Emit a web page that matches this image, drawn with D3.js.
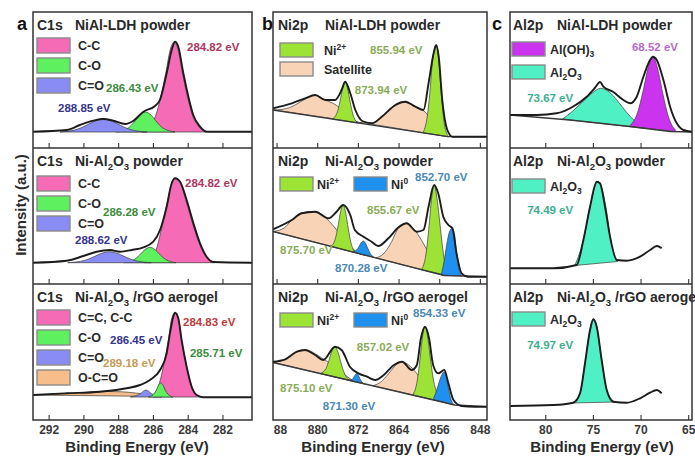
<!DOCTYPE html>
<html>
<head>
<meta charset="utf-8">
<script src="https://cdn.jsdelivr.net/npm/d3@7"></script>
<style>
  body { margin: 0; background: #fff; }
  text { font-family: "Liberation Sans", Arial, sans-serif; font-weight: bold; }
</style>
</head>
<body>
<svg width="695" height="458"></svg>
<script>
// ---- data: [binding energy (eV), intensity (a.u.)] ----
const elements = ["C1s", "Ni2p", "Al2p"]
const samples = ["NiAl-LDH powder", "Ni-Al_{2}O_{3} powder", "Ni-Al_{2}O_{3} /rGO aerogel"]
const panelLetters = ["a", "b", "c"]

const aTicks = [292, 290, 288, 286, 284, 282]
const aMinor = [292, 291, 290, 289, 288, 287, 286, 285, 284, 283, 282, 281]
const bTicks = [888, 880, 872, 864, 856, 848]
const bMinor = [888, 884, 880, 876, 872, 868, 864, 860, 856, 852, 848]
const cTicks = [80, 75, 70, 65]
const cMinor = [82.5, 80, 77.5, 75, 72.5, 70, 67.5, 65]

const aLegendA = ["C-C", "C-O", "C=O"]
const aLegendB = ["C=C, C-C", "C-O", "C=O", "O-C=O"]
const bLegendA = ["Ni^{2+}", "Satellite"]
const bLegendB = ["Ni^{2+}", "Ni^{0}"]
const cLegendA = ["Al(OH)_{3}", "Al_{2}O_{3}"]
const cLegendB = ["Al_{2}O_{3}"]

const a1Peaks = ["284.82 eV", "286.43 eV", "288.85 eV"]
const a2Peaks = ["284.82 eV", "286.28 eV", "288.62 eV"]
const a3Peaks = ["284.83 eV", "285.71 eV", "286.45 eV", "289.18 eV"]
const b1Peaks = ["855.94 eV", "873.94 eV"]
const b2Peaks = ["852.70 eV", "855.67 eV", "875.70 eV", "870.28 eV"]
const b3Peaks = ["854.33 eV", "857.02 eV", "875.10 eV", "871.30 eV"]
const c1Peaks = ["68.52 eV", "73.67 eV"]
const c2Peaks = ["74.49 eV"]
const c3Peaks = ["74.97 eV"]

// C1s, NiAl-LDH
const a1Env = [[292.9,16.3],[290.96,18],[290.2,23],[289.43,27.3],[288.85,29],[288.28,27.3],[287.6,24],[287.12,27.3],[286.55,36.3],[285.88,42],[285.6,48],[285.21,74.7],[284.92,98],[284.73,106.3],[284.54,101.3],[284.25,74.7],[283.96,51.3],[283.68,33],[283.29,21.3],[282.91,16.3],[280.3,16.3]]
const a1CC = [[286.63,16],[286.23,21],[285.83,33],[285.55,51],[285.26,75],[284.98,100],[284.78,106],[284.58,100],[284.3,75],[284.01,51],[283.73,33],[283.33,21],[282.93,16]]
const a1CO = [[288.13,16],[287.41,20.2],[287.08,26],[286.76,32.8],[286.43,36],[286.1,32.8],[285.78,26],[285.45,20.2],[284.73,16]]
const a1CdO = [[291.35,16],[290.35,18.7],[289.85,22.5],[289.35,26.9],[288.85,29],[288.35,26.9],[287.85,22.5],[287.35,18.7],[286.35,16]]

// C1s, Ni-Al2O3 powder
const a2Env = [[292.9,21.3],[290.96,23.3],[290.0,28],[289.24,32.3],[288.47,34],[287.9,32.3],[287.22,34],[286.55,36.7],[285.98,42.3],[285.59,54],[285.21,77.3],[284.92,100.7],[284.73,105.7],[284.44,102.3],[284.06,84],[283.67,60.7],[283.29,40.7],[282.91,27.3],[282.52,22],[280.3,21.3]]
const a2CC = [[286.5,21.3],[286.1,25],[285.8,35],[285.55,52],[285.22,78],[284.92,101],[284.7,105.7],[284.44,102],[284.08,82],[283.69,59],[283.29,39],[282.9,27],[282.45,21.3]]
const a2CO = [[287.67,21.3],[287.07,24.5],[286.77,29],[286.47,34.2],[286.17,36.7],[285.87,34.2],[285.57,29],[285.27,24.5],[284.67,21.3]]
const a2CdO = [[290.9,21.3],[289.93,23.6],[289.45,26.8],[288.98,30.5],[288.5,32.3],[288.03,30.5],[287.55,26.8],[287.07,23.6],[286.1,21.3]]

// C1s, Ni-Al2O3/rGO aerogel
const a3Env = [[292.9,25],[290.96,26.7],[289.05,28.3],[287.51,31.7],[286.74,35],[286.17,40],[285.59,50],[285.21,66.7],[285.02,86.7],[284.83,103.3],[284.73,107.3],[284.54,101.7],[284.35,80],[284.06,53.3],[283.77,33.3],[283.48,25],[283.1,22.7],[280.3,22.7]]
const a3CC = [[286.0,23],[285.7,33],[285.4,53],[285.11,80],[284.92,101.7],[284.73,107],[284.54,101.7],[284.35,80],[284.06,53],[283.77,33],[283.48,25],[283.2,23]]
const a3CO = [[286.25,23],[285.95,26],[285.8,30],[285.68,34.8],[285.55,37],[285.42,34.8],[285.3,30],[285.15,26],[284.85,23]]
const a3CdO = [[287.3,23],[286.95,24.5],[286.7,26.5],[286.55,28.8],[286.4,30],[286.25,28.8],[286.1,26.5],[285.85,24.5],[285.5,23]]
const a3OCdO = [[292.9,25],[291.5,26],[290.5,27],[289.5,28],[288.6,28.5],[287.8,28.2],[287.0,27],[286.3,25.5],[285.5,23.5]]

// Ni2p, NiAl-LDH
const b1Bg = [[888.7,38],[854.3,11.3],[846.6,11.3]]
const b1Env = [[888.7,39.7],[885.0,44.7],[882.4,49.7],[880.4,53],[878.4,48],[876.5,48],[875.2,58],[874.5,66.3],[873.5,54.7],[872.5,38],[870.9,26.3],[869.2,24.7],[867.3,31.3],[864.6,43],[862.7,46.3],[860.7,41.3],[859.1,38],[858.1,64.7],[857.1,94.7],[856.6,103],[856.1,91.3],[855.4,48],[854.4,18],[853.4,11.3],[846.6,11.3]]
const b1Ni2a = [[859.2,15.2],[858.4,30],[857.9,52],[857.3,88],[856.6,103],[856.1,89],[855.6,55],[855.1,28],[854.2,11.3]]
const b1Ni2b = [[877.0,29],[876.0,36.5],[875.5,47],[875.0,60],[874.5,66.3],[874.0,59],[873.5,45.5],[873.0,34],[872.0,25]]
const b1Sat1 = [[869.5,24],[867.5,30],[865.5,40],[863.5,46],[862.0,45],[860.5,41],[859.0,37],[857.5,28],[856.0,16],[854.5,11.5]]
const b1Sat2 = [[888.5,38],[886,39.5],[884,44],[882,50],[880.4,53],[878.5,48],[877,45],[875.5,40],[874,33],[872.5,27],[871,25]]

// Ni2p, Ni-Al2O3 powder
const b2Bg = [[888.7,52.5],[855,8.5],[846.6,7.3]]
const b2Env = [[888.7,54.7],[885.0,64],[883.1,70.7],[880.4,72.3],[877.8,65.7],[876.2,72.3],[874.9,79],[873.5,69],[872.6,54],[870.9,47.3],[869.3,42.3],[868.0,38],[866.0,45.7],[864.0,56.7],[862.4,60.7],[860.4,52.3],[859.1,54],[858.1,77.3],[857.0,99],[856.2,90.7],[855.2,67.3],[854.2,59],[853.4,55.7],[852.6,30.7],[851.6,10.7],[850.3,7.3],[846.6,7.3]]
const b2Ni2a = [[859.5,14.4],[858.6,30],[858.05,55],[857.5,86],[857.0,99],[856.5,88],[855.9,62],[855.3,35],[854.4,8.4]]
const b2Ni2b = [[877.3,37.6],[876.4,45.8],[875.9,58],[875.4,72.4],[874.9,79],[874.4,71.1],[873.9,55.5],[873.4,42],[872.5,31.3]]
const b2Ni0a = [[855.6,9],[855.0,24],[854.5,40],[854.0,52],[853.5,55.5],[853.0,50],[852.6,32],[852.2,16],[851.5,8]]
const b2Ni0b = [[873.1,32.1],[872.25,33.9],[871.8,37.3],[871.35,41.3],[870.9,43],[870.45,40.2],[870,35],[869.55,30.4],[868.7,26.4]]
const b2Sat1 = [[868.5,26.1],[867,30],[865.5,41],[864,56],[862.4,60.5],[861,55],[859.5,44],[858,30],[856.5,16],[855,8.5]]
const b2Sat2 = [[888.7,52.5],[886.5,56],[885,64],[883.1,70.5],[881.5,72.5],[880,72],[878.3,66],[876.8,58],[875.2,48],[873.5,38],[872,31],[870.5,28.8]]

// Ni2p, Ni-Al2O3/rGO aerogel
const b3Bg = [[888.7,57.5],[852.9,15],[846.6,13.3]]
const b3Env = [[888.7,58.3],[886.3,60.7],[884.0,68.3],[882.4,70],[880.4,65],[878.8,60],[876.5,73.3],[875.2,70],[873.5,52.7],[871.9,46.7],[870.2,43.3],[868.6,40],[866.9,45],[864.9,55],[863.3,58.3],[861.4,50],[860.4,55],[859.6,81.7],[858.8,93.3],[858.0,81.7],[857.2,55],[856.2,46.7],[855.0,50],[854.2,36.7],[853.2,20],[851.6,14],[849.0,13.3],[846.6,13.3]]
const b3Ni2a = [[861.2,25],[860.3,40],[859.8,60],[859.3,83],[858.8,93.3],[858.3,84],[857.8,64],[857.2,42],[856.2,24],[855.4,18.2]]
const b3Ni2b = [[879.4,46.5],[878.3,51.3],[877.7,59.5],[877.1,69],[876.5,73.3],[875.9,67.6],[875.3,56.7],[874.7,47.3],[873.6,39.7]]
const b3Ni0a = [[857.2,20.4],[856.5,30],[856.0,38],[855.5,45],[855,48],[854.6,43],[854.2,32],[853.8,22.6],[853.1,15]]
const b3Ni0b = [[873.9,39.8],[873.1,40.7],[872.8,42.8],[872.5,45.3],[872.2,46.5],[871.9,44.5],[871.6,41.3],[871.3,38.5],[870.5,35.8]]
const b3Sat1 = [[869,34.2],[867.5,38],[866,46],[864.5,55],[863.3,58.3],[862,55],[860.5,47],[859,36],[857.5,26],[856,18.9]]
const b3Sat2 = [[888.7,57.5],[886.3,60.7],[884.5,67],[883,70],[881.5,69],[880,65],[878.5,60],[877,55],[875.5,49],[874,43],[872.5,38.2]]

// Al2p
const c1Bg = [[83.7,33],[77.4,28],[71.1,21.5],[66.9,16.5],[64.6,16]]
const c1Env = [[83.7,33],[80.9,33],[78.8,34.7],[77.1,41.3],[75.65,51.3],[74.8,60],[74.25,66],[73.9,61.3],[72.9,56.3],[71.8,48],[71.1,44.7],[70.4,51.3],[69.7,71.3],[69.0,88],[68.7,91.3],[68.3,88],[67.6,68],[66.9,41.3],[66.2,24.7],[65.5,18],[64.6,16.3]]
const c1AlO = [[78.2,28.9],[77.1,37],[76.0,47],[75.0,55.5],[74.2,59.7],[73.3,56],[72.4,47],[71.5,36],[70.6,27],[69.7,19.8]]
const c1AlOH = [[71.2,21.6],[70.3,35.8],[69.75,56.2],[69.2,80.3],[68.7,91.3],[68.2,79.1],[67.65,53.8],[67.1,32],[66.2,16.4]]
const c2Env = [[83.7,15.7],[79.16,15.7],[76.7,19],[76.0,44],[75.3,77.3],[74.6,102.3],[74.26,100.7],[73.73,77.3],[73.2,47.3],[72.5,24],[71.45,23.3],[70.05,27.3],[69.0,34],[68.3,38],[67.78,35.7]]
const c2AlO = [[76.9,18.5],[76.0,44],[75.3,77],[74.8,97],[74.45,102.5],[74.1,97],[73.6,75],[73.15,45],[72.4,22.5]]
const c3Env = [[83.7,14],[79.16,15],[77.06,17.3],[76.35,26.7],[75.83,56.7],[75.3,90],[74.96,100.7],[74.6,93.3],[74.08,60],[73.55,30],[72.86,18.3],[71.45,17.3],[70.05,21.7],[69.0,27.3],[68.3,30],[67.78,26.7]]
const c3AlO = [[77.2,17],[76.35,27],[75.83,56.7],[75.3,90],[74.96,100.7],[74.6,93.3],[74.08,60],[73.55,30],[72.7,18]]

// ---- styling / layout ----
const fills = { cc: "#f66bb5", co: "#5ef05e", cdo: "#8a8cf5", ocdo: "#f7bd8a", ni2: "#9de335", sat: "#f9d3b6", ni0: "#1e90f0", aloh: "#cc33ee", alo: "#4ef0c4" }
const inks = { cc: "#b0365e", cc3: "#c23a3a", co: "#3c8c3c", cdo: "#34358c", ocdo: "#c79a55", ni2: "#8aac58", ni0: "#4a88b5", aloh: "#b56cc6", alo: "#3caf90" }

const rows = [{ top: 12, bottom: 148 }, { top: 148, bottom: 284 }, { top: 284, bottom: 420 }]
const cols = [
    { left: 33, right: 252, domain: [292.9, 280.3], ticks: aTicks, minor: aMinor, elX: 4, smX: 42, titleX: 137 },
    { left: 273, right: 487, domain: [888.7, 846.6], ticks: bTicks, minor: bMinor, elX: 5, smX: 52, titleX: 373 },
    { left: 510, right: 692, domain: [83.7, 64.6], ticks: cTicks, minor: cMinor, elX: 3, smX: 47, titleX: 602 },
]

const panels = [
    { c: 0, r: 0, sample: 0, env: a1Env,
      layers: [[a1CC, "cc"], [a1CO, "co"], [a1CdO, "cdo"]],
      legend: { names: aLegendA, keys: ["cc", "co", "cdo"], x: [4], y: 26, step: 20, h: 15, tx: 41 },
      notes: [[a1Peaks[0], 284.04, 101, "cc"], [a1Peaks[1], 288.7, 60, "co"], [a1Peaks[2], 291.46, 40, "cdo"]] },
    { c: 0, r: 1, sample: 1, env: a2Env,
      layers: [[a2CC, "cc"], [a2CO, "co"], [a2CdO, "cdo"]],
      legend: { names: aLegendA, keys: ["cc", "co", "cdo"], x: [4], y: 28, step: 20, h: 15, tx: 41 },
      notes: [[a2Peaks[0], 284.15, 101, "cc"], [a2Peaks[1], 288.87, 72, "co"], [a2Peaks[2], 290.48, 44, "cdo"]] },
    { c: 0, r: 2, sample: 2, env: a3Env,
      layers: [[a3OCdO, "ocdo"], [a3CC, "cc"], [a3CdO, "cdo"], [a3CO, "co"]],
      legend: { names: aLegendB, keys: ["cc", "co", "cdo", "ocdo"], x: [4], y: 26, step: 20, h: 15, tx: 41 },
      notes: [[a3Peaks[0], 284.27, 98, "cc3"], [a3Peaks[1], 283.87, 67, "co"], [a3Peaks[2], 288.47, 80, "cdo"], [a3Peaks[3], 288.87, 57, "ocdo"]] },
    { c: 1, r: 0, sample: 0, env: b1Env, bg: b1Bg,
      layers: [[b1Sat2, "sat"], [b1Sat1, "sat"], [b1Ni2b, "ni2"], [b1Ni2a, "ni2"]],
      legend: { names: bLegendA, keys: ["ni2", "sat"], x: [7], y: 31, step: 19, h: 14, tx: 44 },
      notes: [[b1Peaks[0], 869.6, 98, "ni2"], [b1Peaks[1], 872.6, 58, "ni2"]] },
    { c: 1, r: 1, sample: 1, env: b2Env, bg: b2Bg,
      layers: [[b2Sat2, "sat"], [b2Sat1, "sat"], [b2Ni2b, "ni2"], [b2Ni2a, "ni2"], [b2Ni0b, "ni0"], [b2Ni0a, "ni0"]],
      legend: { names: bLegendB, keys: ["ni2", "ni0"], x: [7, 81], y: 29, step: 0, h: 14, tx: 37 },
      notes: [[b2Peaks[0], 860.76, 107, "ni0"], [b2Peaks[1], 870.2, 74, "ni2"], [b2Peaks[2], 887.3, 34, "ni2"], [b2Peaks[3], 876.5, 16, "ni0"]] },
    { c: 1, r: 2, sample: 2, env: b3Env, bg: b3Bg,
      layers: [[b3Sat2, "sat"], [b3Sat1, "sat"], [b3Ni2b, "ni2"], [b3Ni2a, "ni2"], [b3Ni0b, "ni0"], [b3Ni0a, "ni0"]],
      legend: { names: bLegendB, keys: ["ni2", "ni0"], x: [7, 81], y: 29, step: 0, h: 14, tx: 37 },
      notes: [[b3Peaks[0], 861.16, 107, "ni0"], [b3Peaks[1], 872.2, 73, "ni2"], [b3Peaks[2], 887.3, 32, "ni2"], [b3Peaks[3], 878.9, 14, "ni0"]] },
    { c: 2, r: 0, sample: 0, env: c1Env, bg: c1Bg,
      layers: [[c1AlO, "alo"], [c1AlOH, "aloh"]],
      legend: { names: cLegendA, keys: ["aloh", "alo"], x: [2], y: 30, step: 23, h: 14, tx: 38 },
      notes: [[c1Peaks[0], 70.9, 101, "aloh"], [c1Peaks[1], 81.9, 50, "alo"]] },
    { c: 2, r: 1, sample: 1, env: c2Env,
      layers: [[c2AlO, "alo"]],
      legend: { names: cLegendB, keys: ["alo"], x: [2], y: 31, step: 0, h: 14, tx: 38 },
      notes: [[c2Peaks[0], 81.9, 74, "alo"]] },
    { c: 2, r: 2, sample: 2, env: c3Env,
      layers: [[c3AlO, "alo"]],
      legend: { names: cLegendB, keys: ["alo"], x: [2], y: 28, step: 0, h: 14, tx: 38 },
      notes: [[c3Peaks[0], 81.9, 75, "alo"]] },
]

const svg = d3.select("svg")
const defs = svg.append("defs")

// text with _{sub} and ^{sup} pieces
function rich(textSel, str, size) {
    const parts = str.split(/([_^]\{[^}]*\})/).filter(s => s.length)
    let shift = 0
    parts.forEach(p => {
        let target = 0, txt = p, small = false
        if (p[0] === "_") { target = size * 0.28; txt = p.slice(2, -1); small = true }
        else if (p[0] === "^") { target = -size * 0.4; txt = p.slice(2, -1); small = true }
        const t = textSel.append("tspan").text(txt).attr("dy", target - shift)
        if (small) t.attr("font-size", size * 0.68)
        shift = target
    })
}

panels.forEach((p, i) => {
    const col = cols[p.c], row = rows[p.r]
    const x = d3.scaleLinear().domain(col.domain).range([col.left, col.right])
    const y = d3.scaleLinear().domain([0, 136]).range([row.bottom, row.top])

    defs.append("clipPath").attr("id", "clip" + i)
        .append("rect")
        .attr("x", col.left).attr("y", row.top)
        .attr("width", col.right - col.left).attr("height", row.bottom - row.top)

    const plot = svg.append("g").attr("clip-path", `url(#clip${i})`)
    const line = d3.line().x(d => x(d[0])).y(d => y(d[1])).curve(d3.curveMonotoneX)

    p.layers.forEach(([data, key]) => {
        plot.append("path")
            .attr("d", line(data) + "Z")
            .attr("fill", fills[key])
            .attr("stroke", "#3a3a3a")
            .attr("stroke-width", 0.7)
    })
    if (p.bg) {
        plot.append("path")
            .attr("d", d3.line().x(d => x(d[0])).y(d => y(d[1]))(p.bg))
            .attr("fill", "none").attr("stroke", "#3a3a3a").attr("stroke-width", 1.3)
    }
    plot.append("path")
        .attr("d", line(p.env))
        .attr("fill", "none").attr("stroke", "#1c1c1c").attr("stroke-width", 1.9)

    // ticks along row bottom, pointing inward
    const axG = svg.append("g").attr("transform", `translate(0,${row.bottom})`)
    axG.call(d3.axisBottom(x).tickValues(col.minor).tickSize(-3).tickFormat(() => ""))
    axG.call(d3.axisBottom(x).tickValues(col.ticks).tickSize(-5).tickPadding(5)
        .tickFormat(p.r === 2 ? d3.format("d") : () => ""))
    axG.selectAll(".domain").remove()
    axG.selectAll("line").attr("stroke", "#333").attr("stroke-width", 1.1)
    axG.attr("font-family", null).attr("font-size", 12)
    axG.selectAll("text").attr("fill", "#3a3a3a")
    if (p.c === 1 && p.r === 2) {
        defs.append("clipPath").attr("id", "bAxisClip")
            .append("rect").attr("x", col.left + 1).attr("y", 0).attr("width", 300).attr("height", 60)
        axG.attr("clip-path", "url(#bAxisClip)")
    }

    // title
    const ty = row.top + 18
    svg.append("text").attr("x", col.left + col.elX).attr("y", ty)
        .attr("font-size", 14).attr("fill", "#2a2a2a").text(elements[p.c])
    rich(svg.append("text").attr("x", col.left + col.smX).attr("y", ty)
        .attr("font-size", 14).attr("fill", "#2a2a2a"), samples[p.sample], 14)

    // legend
    const lg = p.legend
    lg.names.forEach((name, k) => {
        const sx = col.left + (lg.x.length > 1 ? lg.x[k] : lg.x[0])
        const sy = row.top + lg.y + (lg.x.length > 1 ? 0 : k * lg.step)
        svg.append("rect")
            .attr("x", sx).attr("y", sy).attr("width", 33).attr("height", lg.h)
            .attr("fill", fills[lg.keys[k]]).attr("stroke", "#8a8a8a").attr("stroke-width", 1.4)
        rich(svg.append("text").attr("x", sx + lg.tx).attr("y", sy + lg.h / 2 + 4.5)
            .attr("font-size", 12.5).attr("fill", "#2a2a2a"), name, 12.5)
    })

    // peak position labels
    p.notes.forEach(([txt, e, h, key]) => {
        svg.append("text")
            .attr("x", x(e)).attr("y", y(h)).attr("dy", "0.35em")
            .attr("font-size", 11.5).attr("fill", inks[key]).text(txt)
    })
})

// frames
cols.forEach((col, i) => {
    svg.append("rect")
        .attr("x", col.left).attr("y", rows[0].top)
        .attr("width", col.right - col.left).attr("height", rows[2].bottom - rows[0].top)
        .attr("fill", "none").attr("stroke", "#333").attr("stroke-width", 1.5)
    rows.slice(1).forEach(r => {
        svg.append("line")
            .attr("x1", col.left).attr("x2", col.right).attr("y1", r.top).attr("y2", r.top)
            .attr("stroke", "#333").attr("stroke-width", 1.5)
    })
    svg.append("text")
        .attr("x", col.titleX).attr("y", 452).attr("text-anchor", "middle")
        .attr("font-size", 15).attr("fill", "#2a2a2a").text("Binding Energy (eV)")
    svg.append("text")
        .attr("x", col.left - [16, 11, 18][i]).attr("y", 30)
        .attr("font-size", 18).attr("fill", "#111").text(panelLetters[i])
})

svg.append("text")
    .attr("transform", "translate(26,205) rotate(-90)")
    .attr("text-anchor", "middle")
    .attr("font-size", 15).attr("fill", "#2a2a2a")
    .text("Intensity (a.u.)")
</script>
</body>
</html>
